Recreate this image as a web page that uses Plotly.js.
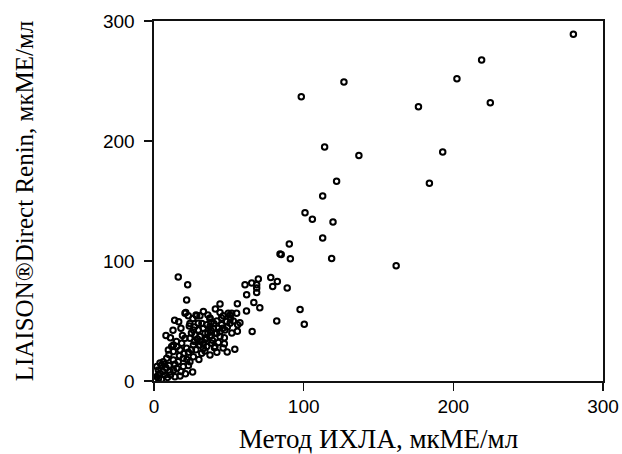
<!DOCTYPE html>
<html>
<head>
<meta charset="utf-8">
<script src="https://cdn.plot.ly/plotly-3.0.1.min.js"></script>
<style>html,body{margin:0;padding:0;background:#fff}#chart{width:622px;height:454px}</style>
</head>
<body>
<div id="chart"></div>
<script>
// Метод ИХЛА (x) vs LIAISON Direct Renin (y), мкМЕ/мл
var xVals = [
280.2,218.9,202.4,224.7,176.7,126.9,98.4,114,136.9,192.9,184,122,112.7,100.9,105.8,119.6,112.7,90.4,84.2,85,91.1,118.7,161.8,
78,82.4,79.3,89,69.7,65.3,60.8,68.6,68.6,68.6,61.9,66.7,70.7,61.8,97.6,100.4,82,65.6,
16.2,22.5,21.8,25.8,
55.7,44.1,55.2,50.8,55.9,55.7,54,48.9,46.2,40.4,21.2,22.9,13.8,16.5,12.7,8,28.5,30.7,37.4,44.1,46.3,49.6,51.9,
23.6,26.3,29.6,32.9,35.2,39.6,41.9,45.2,48.6,50.8,44.1,37.4,34.1,30.7,27.4,24,20.7,18.5,15.2,11.8,9.6,12.9,17.4,21.8,
26.3,30.7,35.2,38.5,40.7,37.4,31.9,26.3,24,19.6,16.2,12.9,8.5,6.2,5.1,2.9,4,1.8,7.3,10.7,14,17.4,15.2,19.6,
45.2,37.4,37.4,43,47.4,40.7,34.1,29.6,57.4,28.1,20.7,
3,5,9,11,13,8,6,10,14,17,20,22,23,25,27,28,29,31,33,33,35,36,38,39,40,42,43,44,46,47,49,51,53,32,27,25,19,15,13,10,7,3,1,2,4,18,21,23,30,34,42,47,52,36,33,41,38,26,18,11,24
];
var yVals = [
288.9,267.5,251.9,231.8,228.5,249.1,236.8,195.1,187.9,190.9,164.8,166.4,154.2,140.3,134.7,132.5,119.1,114.1,105.8,105.4,101.9,102.1,96,
86.3,83,78.8,77.4,85,81.6,80.2,80.2,77.4,73.8,71.8,65.4,61,58.4,59.6,47.3,50.1,41.2,
86.6,80.2,67.6,7.5,
64.3,64.1,56.5,55.1,46.8,41.5,26.4,24.2,27.6,27.8,57.1,54.3,50.7,49.3,42.3,37.9,54.3,54.3,51.8,57.1,54.3,56.5,56.5,
45.9,42.6,48.2,44,46.8,44,39.8,46.8,49.5,48.2,37,37,34.3,37,38.4,35.7,35.7,31.5,28.7,28.7,25.9,24.5,25.9,27.3,
30.1,30.1,28.7,31.5,28.7,21.7,23.1,20.3,16.1,19,16.1,17.5,19,16.1,13.4,9.2,6.4,3.6,5,7.8,3.6,4.2,10.6,12,
52.4,52.4,45.4,44,42.6,39.8,39.8,42.6,48.5,55.1,56.5,
2,1.5,3,5,9,11,8,13,14,21,23,18,24,26,33,26,35,33,31,27,36,40,42,34,48,50,32,41,44,36,45,52,50,48,45,40,38,33,30,22,14,5,1,12,15,8,6,13,18,25,24,31,40,55,58,60,49,52,44,36,48
];
var xTicks = [0, 100, 200, 300];
var yTicks = [0, 100, 200, 300];

var trace = {
  x: xVals, y: yVals, type: 'scatter', mode: 'markers',
  marker: {symbol: 'circle-open', size: 5.5, color: '#000', line: {color: '#000', width: 2}},
  hoverinfo: 'none', showlegend: false
};

var tickFont = {family: 'Liberation Sans, Arial, sans-serif', size: 19, color: '#000'};

var layout = {
  width: 622, height: 454,
  margin: {l: 154, r: 19, t: 21, b: 73, pad: 0},
  paper_bgcolor: '#fff', plot_bgcolor: '#fff',
  xaxis: {
    range: [0, 300], tickvals: xTicks, ticktext: xTicks.map(String),
    showgrid: false, zeroline: false, showline: true, mirror: true,
    linecolor: '#111', linewidth: 1.6, ticks: 'outside', ticklen: 8, tickwidth: 1.5, tickcolor: '#111',
    tickfont: tickFont, automargin: false,
    title: {text: 'Метод ИХЛА, мкМЕ/мл', font: {family: 'Liberation Serif, Times New Roman, serif', size: 27, color: '#000'}, standoff: 14}
  },
  yaxis: {
    range: [0, 300], tickvals: yTicks, ticktext: yTicks.map(String),
    showgrid: false, zeroline: false, showline: true, mirror: true,
    linecolor: '#111', linewidth: 1.6, ticks: 'outside', ticklen: 8, tickwidth: 1.5, tickcolor: '#111',
    tickfont: tickFont, automargin: false, ticklabelstandoff: 6,
    title: {text: 'LIAISON®Direct Renin, мкМЕ/мл', font: {family: 'Liberation Serif, Times New Roman, serif', size: 25, color: '#000'}, standoff: 62}
  }
};

Plotly.newPlot('chart', [trace], layout, {staticPlot: true, displayModeBar: false});
</script>
</body>
</html>
